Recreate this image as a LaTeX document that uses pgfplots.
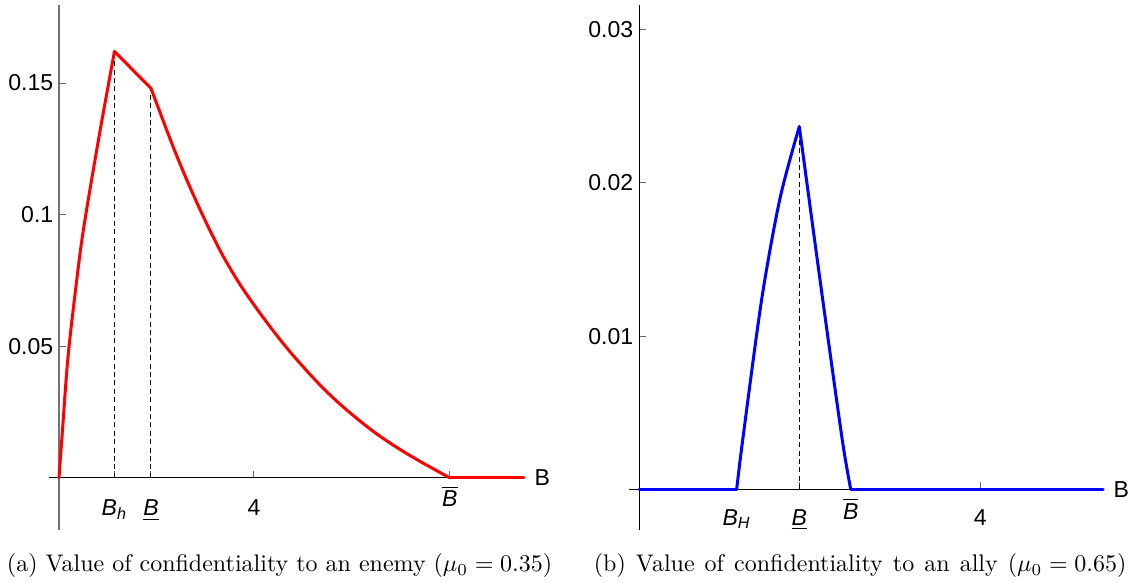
\documentclass[border=0pt]{standalone}
\usepackage{fontspec}
\newfontfamily\arial{Liberation Sans}
\usepackage{pgfplots}
\pgfplotsset{compat=1.18}

\newcommand{\tickfont}{\arial\fontsize{9.6}{11}\selectfont}
\newcommand{\Bbar}{$\overline{\mbox{\itshape B}}$}
\newcommand{\Bund}{\underline{\itshape B}}

\pgfplotsset{
  conf/.style={
    scale only axis, clip=false,
    axis lines=middle,
    axis line style={-, line width=0.42pt},
    tick align=inside,
    major tick length=3pt,
    tick style={line width=0.42pt, black!60},
    tick label style={font=\tickfont},
    yticklabel style={anchor=east, inner sep=0pt, xshift=-2.2pt},
    xticklabel style={anchor=base, inner sep=0pt},
    xlabel style={font=\tickfont, anchor=west, inner sep=0pt, xshift=4.2pt},
  },
  curve/.style={line width=1.25pt, line join=round, line cap=round},
  guide/.style={black, line width=0.42pt, dash pattern=on 2.1pt off 1.4pt},
}

\begin{document}
\begin{tikzpicture}
\path[use as bounding box] (0,0) rectangle (472.5pt,242.5pt);

% (a) enemy
\begin{axis}[conf,
  at={(20.42pt,21.67pt)}, anchor=south west,
  width=197.9pt, height=218.8pt,
  xmin=-0.205, xmax=9.54, ymin=-0.0198, ymax=0.1797,
  x axis line style={black},
  y axis line style={black!55},
  xtick={1.138,1.887,4,8.02},
  xticklabels={{\itshape B\textsubscript{h}}, \Bund, 4, \raisebox{3.75pt}{\Bbar}},
  xticklabel style={yshift=-15.8pt},
  ytick={0.05,0.1,0.15},
  yticklabels={0.05,0.1,0.15},
  xlabel={B},
  xlabel style={at={(axis cs:9.54,0)}},
]
\addplot[guide] coordinates {(1.138,0) (1.138,0.162)};
\addplot[guide] coordinates {(1.887,0) (1.887,0.148)};
% rising part
\addplot[curve, red, smooth] coordinates {
  (0,0) (0.06,0.0152) (0.18,0.045) (0.34,0.0715) (0.5,0.0942)
  (0.82,0.1295) (1.138,0.162)
};
% straight piece between the two kinks
\addplot[curve, red] coordinates {(1.138,0.162) (1.887,0.148)};
% decay
\addplot[curve, red, smooth] coordinates {
  (1.887,0.148) (2.341,0.1258) (2.683,0.1106) (3.024,0.0968)
  (3.365,0.0843) (3.706,0.0737) (4.048,0.0645) (4.389,0.0560)
  (4.730,0.0481) (5.072,0.0409) (5.413,0.0342) (5.754,0.0282)
  (6.096,0.0228) (6.437,0.0178) (6.778,0.0134) (7.119,0.0094)
  (7.461,0.0057) (7.802,0.0022) (8.02,0)
};
\addplot[curve, red] coordinates {(8.02,0) (9.54,0)};
\end{axis}

% (b) ally
\begin{axis}[conf,
  at={(262.2pt,21.67pt)}, anchor=south west,
  width=197.4pt, height=218.6pt,
  xmin=-0.114, xmax=5.44, ymin=-0.00266, ymax=0.0316,
  axis line style={black},
  xtick={1.145,1.879,2.482,4},
  xticklabels={{\itshape B\textsubscript{H}}, \Bund, \raisebox{2.5pt}{\Bbar}, 4},
  xticklabel style={yshift=-14.9pt},
  ytick={0.01,0.02,0.03},
  yticklabels={0.01,0.02,0.03},
  xlabel={B},
  xlabel style={at={(axis cs:5.44,0)}},
]
\addplot[guide] coordinates {(1.879,0) (1.879,0.02368)};
\addplot[curve, blue] coordinates {(0,0) (1.145,0)};
\addplot[curve, blue, smooth] coordinates {
  (1.145,0) (1.215,0.0032) (1.438,0.0124) (1.653,0.0190) (1.879,0.02368)
};
\addplot[curve, blue, smooth] coordinates {
  (1.879,0.02368) (2.154,0.01236) (2.383,0.00322) (2.482,0)
};
\addplot[curve, blue] coordinates {(2.482,0) (5.44,0)};
\end{axis}

\node[anchor=base, inner sep=0pt, font=\fontsize{10}{12}\selectfont]
  at (116.5pt,4.17pt) {(a) Value of confidentiality to an enemy ($\mu_0 = 0.35$)};
\node[anchor=base, inner sep=0pt, font=\fontsize{10}{12}\selectfont]
  at (358.4pt,4.17pt) {\spaceskip=4.2pt\relax (b) Value of confidentiality to an ally ($\mu_0 = 0.65$)};
\end{tikzpicture}
\end{document}
